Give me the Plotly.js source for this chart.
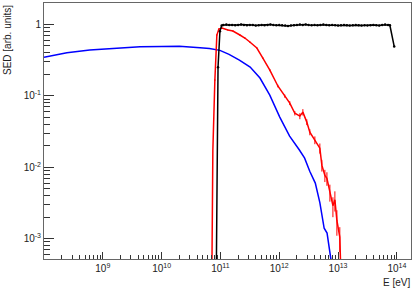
<!DOCTYPE html>
<html>
<head>
<meta charset="utf-8">
<script src="https://cdn.plot.ly/plotly-3.0.1.min.js"></script>
<style>html,body{margin:0;padding:0;background:#fff;}#chart{width:415px;height:291px;}</style>
</head>
<body>
<div id="chart"></div>
<script>
// Blue curve
const blueE = [1.0e8, 2.45e8, 6.0e8, 1.6e9, 4.3e9, 1.0e10, 2.0e10, 4.5e10, 6.5e10, 9.8e10, 1.4e11, 2.1e11, 3.2e11, 4.7e11, 5.75e11, 6.9e11, 1.02e12, 1.5e12, 2.2e12, 2.7e12, 3.3e12, 4.1e12, 4.9e12, 5.8e12, 6.5e12, 7.2e12, 7.9e12];
const blueSED = [0.345, 0.40, 0.436, 0.465, 0.486, 0.489, 0.492, 0.47, 0.458, 0.432, 0.38, 0.316, 0.252, 0.177, 0.132, 0.102, 0.0503, 0.0273, 0.0174, 0.0134, 0.0088, 0.006, 0.0032, 0.0014, 0.0012, 0.00063, 0.0004];

// Red curve (with error bars)
const redE = [7.15e10, 7.43e10, 8.04e10, 8.69e10, 9.4e10, 1.06e11, 1.34e11, 1.63e11, 2.14e11, 2.6e11, 3.16e11, 4.16e11, 5.26e11, 6.92e11, 9.46e11, 1.24e12, 1.51e12, 1.84e12, 2.24e12, 2.52e12, 2.94e12, 3.31e12, 4.03e12, 4.9e12, 5.3e12, 5.97e12, 6.46e12, 7.26e12, 8.17e12, 8.83e12, 9.55e12, 1.07e13, 1.12e13];
const redSED = [0.0003, 0.017, 0.166, 0.708, 0.86, 0.888, 0.832, 0.806, 0.708, 0.643, 0.565, 0.466, 0.337, 0.229, 0.137, 0.099, 0.079, 0.057, 0.052, 0.059, 0.0428, 0.031, 0.024, 0.0185, 0.0107, 0.0077, 0.0070, 0.0045, 0.0029, 0.0035, 0.0018, 0.00105, 0.0003];
const redErr = [0, 0, 0.005, 0.02, 0.02, 0.02, 0.02, 0.02, 0.02, 0.02, 0.015, 0.012, 0.01, 0.008, 0.006, 0.005, 0.005, 0.004, 0.005, 0.006, 0.004, 0.003, 0.003, 0.003, 0.002, 0.0015, 0.0015, 0.0012, 0.0009, 0.0011, 0.0007, 0.0004, 0];

// Black curve
const blackE = [8.5e10, 9.1e10, 9.8e10, 1.05e11,
  1.12e11, 1.26e11, 1.41e11, 1.58e11, 1.78e11, 2.00e11, 2.24e11, 2.51e11, 2.82e11, 3.16e11, 3.55e11, 3.98e11, 4.47e11, 5.01e11, 5.62e11, 6.31e11, 7.08e11, 7.94e11, 8.91e11,
  1.00e12, 1.12e12, 1.26e12, 1.41e12, 1.58e12, 1.78e12, 2.00e12, 2.24e12, 2.51e12, 2.82e12, 3.16e12, 3.55e12, 3.98e12, 4.47e12, 5.01e12, 5.62e12, 6.31e12, 7.08e12, 7.94e12, 8.91e12,
  1.00e13, 1.12e13, 1.26e13, 1.41e13, 1.58e13, 1.78e13, 2.00e13, 2.24e13, 2.51e13, 2.82e13, 3.16e13, 3.55e13, 3.98e13, 4.47e13, 5.01e13, 5.62e13, 6.31e13, 7.08e13, 7.6e13, 9.0e13];
const blackSED = [0.0003, 0.25, 0.80, 0.96,
  0.98, 0.99, 0.98, 0.98, 0.97, 0.98, 0.99, 0.98, 0.97, 0.98, 0.98, 0.96, 0.97, 0.98, 0.97, 0.98, 0.99, 0.98, 0.97,
  0.98, 0.97, 0.96, 0.95, 0.96, 0.97, 0.98, 0.99, 0.98, 0.99, 0.98, 0.97, 0.98, 0.97, 0.98, 0.99, 0.98, 0.97, 0.98, 0.97,
  0.96, 0.97, 0.98, 0.97, 0.96, 0.97, 0.98, 0.97, 0.96, 0.97, 0.96, 0.97, 0.98, 0.97, 0.96, 0.98, 0.99, 0.98, 0.97, 0.49];

// Tick labels
const xTickVals = [1e9, 1e10, 1e11, 1e12, 1e13, 1e14];
const xTickText = ['10<sup>9</sup>', '10<sup>10</sup>', '10<sup>11</sup>', '10<sup>12</sup>', '10<sup>13</sup>', '10<sup>14</sup>'];
const yTickVals = [1e-3, 1e-2, 1e-1, 1];
const yTickText = ['10<sup>-3</sup>', '10<sup>-2</sup>', '10<sup>-1</sup>', '1'];

function minorTicks(lo, hi) {
  const out = [];
  for (let d = lo; d <= hi; d++) {
    for (let m = 2; m <= 9; m++) out.push(m * Math.pow(10, d));
  }
  return out;
}

const font = {family: 'Liberation Sans, Arial, sans-serif', size: 10, color: '#222'};

const traces = [
  {x: blueE, y: blueSED, type: 'scatter', mode: 'lines', line: {color: '#0000ff', width: 1.5}, hoverinfo: 'skip'},
  {x: redE, y: redSED, type: 'scatter', mode: 'lines', line: {color: '#ff0000', width: 1.5},
   error_y: {type: 'data', array: redErr, visible: true, thickness: 1, width: 0, color: '#ff0000'}},
  {x: blackE, y: blackSED, type: 'scatter', mode: 'lines+markers', line: {color: '#000000', width: 1.5},
   marker: {color: '#000000', size: 2.5}}
];

const layout = {
  width: 415, height: 291,
  margin: {l: 44, r: 4, t: 3, b: 32, pad: 0},
  paper_bgcolor: '#ffffff', plot_bgcolor: '#ffffff',
  showlegend: false,
  font: font,
  xaxis: {
    type: 'log', range: [8, 14.24], showgrid: false, zeroline: false,
    showline: true, linecolor: '#666', linewidth: 1, mirror: true,
    tickmode: 'array', tickvals: xTickVals, ticktext: xTickText,
    ticks: 'inside', ticklen: 7, tickcolor: '#333', tickwidth: 1,
    minor: {tickmode: 'array', tickvals: minorTicks(8, 14), ticks: 'inside', ticklen: 4, tickcolor: '#333', tickwidth: 1, showgrid: false},
    tickfont: font
  },
  yaxis: {
    type: 'log', range: [-3.284, 0.298], showgrid: false, zeroline: false,
    showline: true, linecolor: '#666', linewidth: 1, mirror: true,
    tickmode: 'array', tickvals: yTickVals, ticktext: yTickText,
    ticks: 'inside', ticklen: 10, tickcolor: '#333', tickwidth: 1,
    minor: {tickmode: 'array', tickvals: minorTicks(-4, 0), ticks: 'inside', ticklen: 6, tickcolor: '#333', tickwidth: 1, showgrid: false},
    tickfont: font
  },
  annotations: [
    {text: 'SED [arb. units]', xref: 'paper', yref: 'paper', x: (7 - 44) / 367, y: 1.0, xanchor: 'center', yanchor: 'top', textangle: -90, showarrow: false, font: font},
    {text: 'E [eV]', xref: 'paper', yref: 'paper', x: (412 - 44) / 367, y: (259 - 282) / 256, xanchor: 'right', yanchor: 'middle', showarrow: false, font: font}
  ]
};

Plotly.newPlot('chart', traces, layout, {staticPlot: true, displayModeBar: false});
</script>
</body>
</html>
